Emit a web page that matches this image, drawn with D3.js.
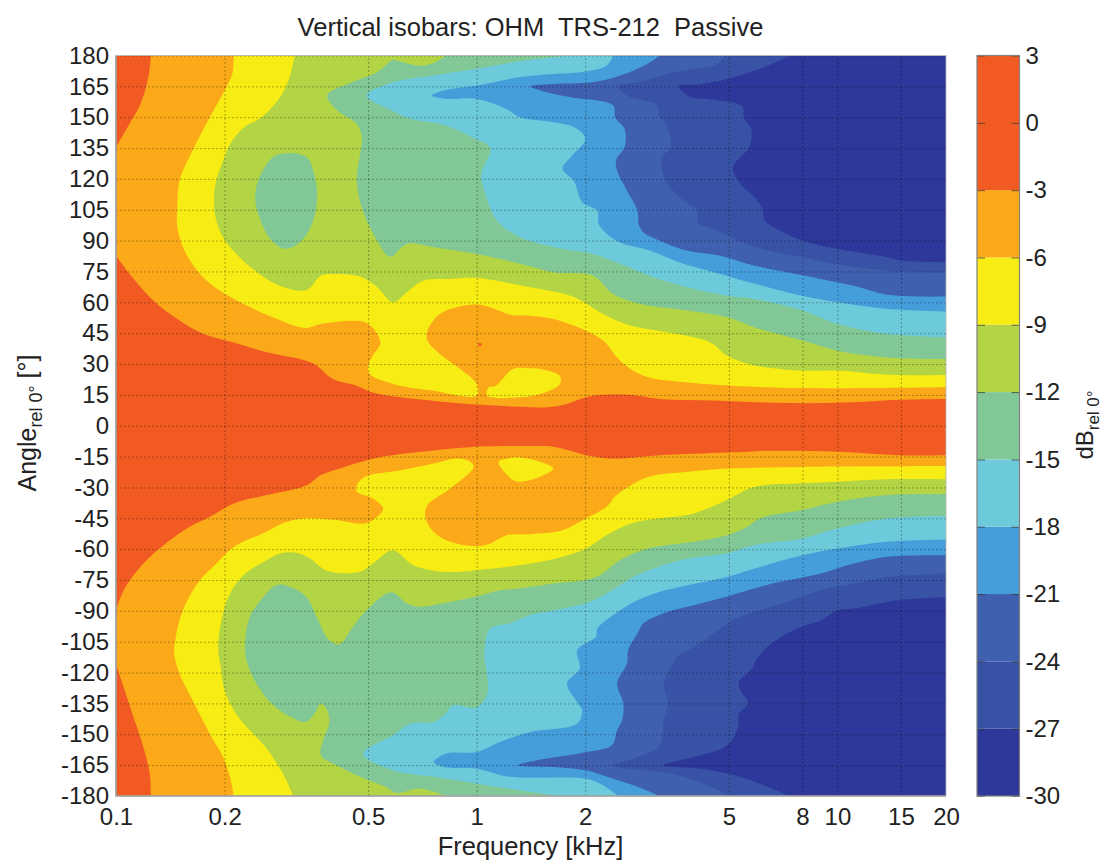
<!DOCTYPE html>
<html>
<head>
<meta charset="utf-8">
<script src="https://cdn.jsdelivr.net/npm/d3@7"></script>
<style>
    body { margin: 0; background: white; }
    svg text { font-family: "Liberation Sans", Arial, sans-serif; fill: #222; }
    .domain { display: none; }
</style>
</head>
<body>
<svg id="chart" width="1107" height="861"></svg>
<script>
//  the isobar levels, from the colorbar
const dbTicks = [3, 0, -3, -6, -9, -12, -15, -18, -21, -24, -27, -30];
const bandLows = [-30, -27, -24, -21, -18, -15, -12, -9, -6, -3];
const bandHighs = [-27, -24, -21, -18, -15, -12, -9, -6, -3, 3];
const bandColors = ["#2e389b", "#3853a5", "#3f60ae", "#459dd9", "#6dcadb", "#82c896", "#b2d445", "#f7ec13", "#fba919", "#f15a22"];

const freqTicks = [0.1, 0.2, 0.5, 1, 2, 5, 8, 10, 15, 20];
const angleTicks = [180, 165, 150, 135, 120, 105, 90, 75, 60, 45, 30, 15, 0, -15, -30, -45, -60, -75, -90, -105, -120, -135, -150, -165, -180];

//  contours: [kHz, degrees], from the top (or bottom) edge to the 20 kHz edge
const iso27Top = [[7.4,180],[6.1,173.5],[4.95,168.6],[4.17,166],[3.63,165],[3.93,159.7],[4.36,158.9],[5.45,155.2],[5.5,150],[5.77,144.3],[5.7,135.4],[5.38,130.5],[5.13,125.7],[5.38,117.6],[5.9,111],[6.2,105.4],[6.3,99.7],[7.1,94],[8,90],[10,85.9],[13.8,81.9],[15,80.3],[20,79.5]];
const iso27Bottom = [[7.35,-180],[6.1,-174],[4.95,-169.1],[4.17,-166.7],[3.3,-165],[4.17,-160.2],[4.95,-155.3],[5.3,-146.4],[5.33,-140],[5.65,-135],[5.38,-128.6],[5.33,-124.5],[5.8,-118],[5.95,-114],[6.4,-107.5],[7.25,-101],[7.9,-97.8],[9,-94.5],[10,-89.7],[11.1,-88.9],[14.7,-84.8],[20,-83.2]];

const iso24Top = [[4.88,180],[4.65,176],[4,173.5],[3.38,171],[2.79,167],[2.47,165],[2.61,160.5],[3.16,155.7],[3.2,150.8],[3.38,145],[3.45,135.4],[3.26,130.5],[3.26,124.9],[3.38,117.6],[3.74,109.5],[4.1,104.6],[4.1,98.9],[4.65,94.9],[5.3,90],[6.5,85],[8,81.9],[10,78.3],[13.8,75.4],[20,74.6]];
const iso24Bottom = [[5,-180],[4.36,-174.8],[3.45,-169.1],[2.39,-165],[2.79,-161],[3.22,-155.3],[3.3,-143.2],[3.38,-135],[3.3,-125.3],[3.5,-115.6],[3.6,-112.4],[4,-107.5],[4.53,-101],[5.13,-94.5],[5.9,-90.5],[7.25,-85.6],[9,-80],[11.1,-76.7],[13.8,-73.5],[20,-71.8]];

const iso21Top = [[3.22,180],[2.98,176],[2.5,170.3],[2.1,167],[1.63,166.2],[1.41,165],[1.63,161.4],[1.82,159.7],[2.39,155.7],[2.42,150],[2.57,144.3],[2.57,135.4],[2.44,129.7],[2.44,124.9],[2.61,114.3],[2.79,104.6],[2.81,98.1],[2.9,94],[3.22,90],[3.84,85.1],[4.74,82.7],[5.9,77.8],[7.25,74.6],[9,71.4],[11.1,68.1],[13.8,63.7],[20,62.8]];
const iso21Bottom = [[3.22,-180],[2.72,-174.8],[2.24,-170],[2.01,-167.5],[1.63,-165.9],[1.3,-165],[1.47,-162.6],[2.02,-158.6],[2.37,-155.3],[2.45,-148],[2.53,-143.2],[2.55,-135],[2.45,-125.3],[2.61,-115.6],[2.63,-109],[2.79,-101],[2.9,-96],[3.38,-90.5],[3.84,-88],[4.95,-83],[5.9,-79],[6.94,-75.9],[9,-71.8],[11.1,-67],[13.8,-63.7],[20,-63]];

const iso18Top = [[2.39,180],[2.29,175],[1.97,172],[1.63,171],[1.32,169.5],[1,165.4],[0.81,163],[0.75,160.5],[0.82,158.9],[1,158.9],[1.21,154],[1.32,150],[1.63,147.6],[1.87,145],[2,139.5],[1.82,130.5],[1.73,125],[1.86,119],[1.96,108.7],[2.16,104.6],[2.18,98],[2.44,90],[3.03,85.1],[3.74,78.7],[4.74,73.8],[5.9,69],[8,63.2],[10,60],[13.8,56.8],[20,55.6]];
const iso18Bottom = [[2.47,-180],[2.24,-174.8],[2.01,-171.6],[1.24,-170.7],[1,-166.7],[0.81,-165.9],[0.76,-163.5],[0.82,-159.4],[1,-158.6],[1.16,-153.7],[1.41,-148.9],[1.9,-144.8],[1.96,-138.3],[1.91,-135],[1.78,-125.3],[1.93,-118],[1.9,-109],[2.14,-102.7],[2.16,-98.6],[2.5,-89.7],[2.79,-84.8],[3.22,-80.7],[3.84,-77.5],[4.95,-73.5],[5.9,-69.4],[8,-63],[10,-59.7],[13.8,-56.4],[20,-55.3]];

const iso15Top = [[1.82,180],[1.32,177.2],[1,173.5],[0.76,170.3],[0.586,167],[0.495,160.5],[0.57,154],[0.655,149.2],[0.82,146],[0.97,140.3],[1.09,135],[1.03,122.4],[1.05,114.3],[1.14,99.7],[1.32,91.6],[1.73,86],[2.1,83.5],[2.5,78.7],[3.09,72.2],[3.84,67.3],[4.95,63.2],[5.9,61.6],[8,56],[10,49.5],[13.8,44.6],[20,43]];
const iso15Bottom = [[1.73,-180],[1.41,-178],[1,-174],[0.76,-170.7],[0.586,-167.5],[0.485,-159.4],[0.586,-150.5],[0.655,-144.8],[0.76,-144],[0.82,-140],[0.86,-135.9],[1,-137],[1.07,-130.2],[1.07,-122],[1.05,-110.8],[1.09,-98.6],[1.24,-96],[1.41,-92],[1.63,-89.7],[2,-86.4],[2.16,-84],[2.5,-77.5],[2.72,-73.5],[3.68,-65.3],[4.95,-62],[5.9,-58],[8,-54.8],[10,-50],[13.8,-45],[20,-44]];

const iso12Top = [[0.82,180],[0.76,176.3],[0.695,175],[0.6,177.6],[0.586,177.9],[0.53,171.9],[0.45,167],[0.385,160.5],[0.417,152.4],[0.465,146.8],[0.48,140.3],[0.465,119.2],[0.483,104.6],[0.53,90],[0.575,82.2],[0.64,88.4],[0.76,86.8],[1,83.5],[1.32,78.7],[1.63,74.6],[2.1,73],[2.39,64],[2.85,59.2],[3.84,56],[4.95,52.7],[5.9,47.8],[8,41.4],[10,36.5],[13.8,33.2],[20,32.4]];
const iso12Bottom = [[0.82,-180],[0.695,-176.4],[0.6,-178.5],[0.56,-175.6],[0.49,-171.6],[0.417,-165.9],[0.37,-160.2],[0.375,-153],[0.39,-144.8],[0.385,-138.3],[0.37,-135],[0.355,-140],[0.335,-144],[0.305,-141.6],[0.27,-135],[0.245,-125.3],[0.23,-114],[0.228,-105.9],[0.235,-93],[0.257,-83],[0.278,-77.5],[0.298,-77.8],[0.336,-83],[0.36,-93],[0.39,-104.3],[0.417,-106.2],[0.45,-98.6],[0.49,-90.5],[0.58,-81],[0.64,-86.4],[0.695,-88],[0.845,-85.6],[1,-83],[1.16,-80],[1.32,-79],[1.63,-76.7],[2.01,-75],[2.2,-72.6],[2.5,-65.3],[2.98,-59.7],[4,-56.4],[4.95,-53.2],[5.65,-49],[6.1,-45],[8,-41],[10,-37],[13.8,-33.7],[20,-33.2]];
const island12 = [[0.294,132.5],[0.338,130.5],[0.356,120.8],[0.361,111],[0.352,99.7],[0.327,90],[0.294,86],[0.268,90.8],[0.25,101.4],[0.243,111],[0.25,120.8],[0.272,130.5]];

const iso9Top = [[0.313,180],[0.303,169.5],[0.285,159.7],[0.25,149.2],[0.23,146],[0.21,138.6],[0.195,125.7],[0.188,116],[0.188,103],[0.198,91.6],[0.22,81.9],[0.25,73.8],[0.285,68],[0.338,66],[0.37,73],[0.4,73.8],[0.475,72.5],[0.53,67.3],[0.586,60],[0.64,64.9],[0.71,70.5],[0.845,71.4],[1,71.8],[1.41,67.3],[1.82,63.2],[2.02,59.2],[2.24,54.3],[2.68,48.6],[3.38,45.4],[4.44,40.5],[4.95,34],[5.77,29.7],[8,26.8],[10,26.8],[13.8,24.8],[20,24.7]];
const iso9Bottom = [[0.31,-180],[0.29,-169],[0.262,-157],[0.24,-149.7],[0.215,-140],[0.2,-128.6],[0.195,-117],[0.192,-107.5],[0.198,-91.3],[0.207,-81.6],[0.226,-72.6],[0.262,-65.3],[0.29,-61.8],[0.32,-62],[0.345,-64.5],[0.385,-70.5],[0.475,-71],[0.515,-67],[0.586,-60.5],[0.667,-67.8],[0.81,-71],[1,-70.2],[1.41,-67],[1.73,-63.7],[2.01,-59.7],[2.29,-53.2],[2.68,-47.5],[3.22,-45],[4,-42.6],[4.95,-36],[5.9,-29.7],[8,-28],[10,-27.2],[13.8,-26],[20,-26]];

const iso6Top = [[0.212,180],[0.21,171],[0.2,163],[0.182,150],[0.163,133.8],[0.15,119.2],[0.148,107.8],[0.148,96.5],[0.155,85],[0.171,73.8],[0.191,66.5],[0.226,59.2],[0.272,52.7],[0.334,47.5],[0.37,49.5],[0.49,50.3],[0.53,44.6],[0.54,39.7],[0.515,34],[0.5,29.2],[0.505,25.1],[0.586,20.3],[0.76,17],[1,14.6],[1,20.3],[0.9,27.6],[0.79,34.9],[0.73,41.4],[0.73,46.2],[0.79,54.3],[0.88,57.6],[1,58.9],[1.09,57.6],[1.24,54],[1.41,53.5],[1.63,51.9],[2.01,46.2],[2.24,41.4],[2.5,31.6],[2.9,24.3],[3.84,21],[5.13,19.5],[8,18.3],[20,18.7]];
const iso6Bottom = [[0.212,-180],[0.207,-170.7],[0.198,-161],[0.182,-149.7],[0.163,-133.5],[0.15,-120.5],[0.145,-110.8],[0.146,-104.3],[0.15,-94.5],[0.157,-85.6],[0.171,-75],[0.186,-68.6],[0.212,-58.9],[0.255,-52.4],[0.298,-46.7],[0.338,-45],[0.4,-45.6],[0.49,-47.5],[0.53,-44.3],[0.55,-40.2],[0.515,-35.4],[0.465,-32],[0.465,-28.9],[0.49,-24.8],[0.615,-21.6],[0.76,-18.3],[0.89,-15.9],[0.96,-17.5],[0.98,-20],[0.845,-30.5],[0.73,-38.6],[0.72,-44.3],[0.76,-51.6],[0.845,-56.4],[1,-58.5],[1.09,-57.2],[1.21,-53.2],[1.41,-52.7],[1.73,-50.8],[2.01,-45],[2.29,-39.4],[2.44,-33.7],[2.68,-28.9],[3,-24.8],[3.84,-22.4],[4.95,-20.8],[8,-20],[20,-19.6]];
const lobe6Top = [[1.07,14.6],[1.08,18.7],[1.13,19.5],[1.26,27.6],[1.41,28],[1.5,27.6],[1.7,24.3],[1.7,20.3],[1.5,15.4],[1.32,13.8]];
const lobe6Bottom = [[1.15,-17.5],[1.22,-15.9],[1.32,-15.4],[1.5,-17.5],[1.63,-20.8],[1.5,-24.8],[1.32,-27.2],[1.26,-26.4]];

const iso3Top = [[0.1,82.7],[0.111,72.2],[0.127,60.8],[0.148,51.9],[0.175,44.6],[0.212,40.5],[0.262,35.7],[0.352,30.3],[0.4,22.7],[0.465,19.5],[0.515,16.2],[0.68,13],[1,10.3],[1.41,9],[1.57,9],[1.77,10.5],[2.01,13.8],[2.2,14.9],[2.68,14.9],[3.22,13],[4.74,12.2],[7.25,11],[11.1,11.4],[14.3,12.5],[20,13]];
const iso3Bottom = [[0.1,-89.7],[0.105,-80],[0.115,-70],[0.132,-59.7],[0.157,-50],[0.182,-44.3],[0.212,-37.8],[0.262,-33.7],[0.338,-28.9],[0.37,-24],[0.417,-20.8],[0.48,-17.5],[0.55,-15],[0.76,-12],[1,-10.2],[1.41,-9.9],[1.63,-10.2],[1.86,-12.6],[2.01,-14.3],[2.39,-15.9],[3.22,-14.3],[4.95,-13],[6.5,-12.2],[10,-12.6],[14.7,-14.3],[20,-14.3]];
const corner3Top = [[0.125,180],[0.123,169.5],[0.117,156.5],[0.109,146.8],[0.1,135.4]];
const corner3Bottom = [[0.125,-180],[0.124,-169],[0.119,-156],[0.111,-140],[0.105,-127],[0.1,-116]];
const peakDot = [1.02, 39.5];

const plot = {left: 116, right: 946, top: 55.5, bottom: 796};
const bar = {left: 977, right: 1019.5};

const svg = d3.select("#chart");
const x = d3.scaleLog().domain([0.1, 20]).range([plot.left, plot.right]);
const y = d3.scaleLinear().domain([180, -180]).range([plot.top, plot.bottom]);
const yBar = d3.scaleLinear().domain([3, -30]).range([plot.top, plot.bottom]);
const color = d3.scaleOrdinal().domain(bandLows).range(bandColors);

const smoothLine = d3.line().x(d => x(d[0])).y(d => y(d[1])).curve(d3.curveCatmullRom.alpha(0.5));
const smoothLoop = d3.line().x(d => x(d[0])).y(d => y(d[1])).curve(d3.curveCatmullRomClosed.alpha(0.5));

//  everything at or above one level: top contour, back along the bottom one, then the left edge
function levelPath(top, bottom) {
    const back = smoothLine(bottom.slice().reverse());
    let d = smoothLine(top) + "L" + back.slice(1);
    if (top[0][0] > 0.1) {
        d = `M${x(0.1)},${y(180)}L` + d.slice(1) + `L${x(0.1)},${y(-180)}`;
    }
    return d + "Z";
}

//  a corner piece: the contour, closed through the plot corner
function cornerPath(contour, cornerAngle) {
    return smoothLine(contour) + `L${x(0.1)},${y(cornerAngle)}Z`;
}

//  painted from the lowest level up, so each region covers the one before
const regions = [
    {low: -30, d: `M${x(0.1)},${y(180)}H${x(20)}V${y(-180)}H${x(0.1)}Z`},
    {low: -27, d: levelPath(iso27Top, iso27Bottom)},
    {low: -24, d: levelPath(iso24Top, iso24Bottom)},
    {low: -21, d: levelPath(iso21Top, iso21Bottom)},
    {low: -18, d: levelPath(iso18Top, iso18Bottom)},
    {low: -15, d: levelPath(iso15Top, iso15Bottom)},
    {low: -12, d: levelPath(iso12Top, iso12Bottom)},
    {low: -15, d: smoothLoop(island12)},
    {low: -9, d: levelPath(iso9Top, iso9Bottom)},
    {low: -6, d: levelPath(iso6Top, iso6Bottom)},
    {low: -9, d: smoothLoop(lobe6Top)},
    {low: -9, d: smoothLoop(lobe6Bottom)},
    {low: -3, d: levelPath(iso3Top, iso3Bottom)},
    {low: -3, d: cornerPath(corner3Top, 180)},
    {low: -3, d: cornerPath(corner3Bottom, -180)},
];

//  the original is a slightly soft scan, so the plot gets a small blur
const defs = svg.append("defs");
defs.append("clipPath").attr("id", "plotClip").append("rect")
    .attr("x", plot.left).attr("y", plot.top)
    .attr("width", plot.right - plot.left).attr("height", plot.bottom - plot.top);
defs.append("filter").attr("id", "soft").attr("color-interpolation-filters", "sRGB")
    .append("feGaussianBlur").attr("stdDeviation", 0.6);

const plotArea = svg.append("g").attr("clip-path", "url(#plotClip)")
    .append("g").attr("filter", "url(#soft)");

plotArea.append("g").selectAll("path").data(regions).join("path")
    .attr("d", d => d.d)
    .attr("fill", d => color(d.low));

plotArea.append("circle")
    .attr("cx", x(peakDot[0])).attr("cy", y(peakDot[1])).attr("r", 1.8)
    .attr("fill", bandColors[9]);

//  dotted grid
const gridX = plotArea.append("g").attr("transform", `translate(0,${plot.bottom})`)
    .call(d3.axisBottom(x).tickValues(freqTicks).tickSize(plot.top - plot.bottom).tickFormat(""));
const gridY = plotArea.append("g").attr("transform", `translate(${plot.left},0)`)
    .call(d3.axisLeft(y).tickValues(angleTicks).tickSize(plot.left - plot.right).tickFormat(""));
[gridX, gridY].forEach(g => g.selectAll(".tick line")
    .attr("stroke", "#000").attr("stroke-opacity", 0.3)
    .attr("stroke-width", 1).attr("stroke-dasharray", "2,2"));

//  axes with their labels
const axisX = svg.append("g").attr("transform", `translate(0,${plot.bottom})`)
    .call(d3.axisBottom(x).tickValues(freqTicks).tickSize(0).tickPadding(12).tickFormat(d => d));
const axisY = svg.append("g").attr("transform", `translate(${plot.left},0)`)
    .call(d3.axisLeft(y).tickValues(angleTicks).tickSize(0).tickPadding(7).tickFormat(d => d));
[axisX, axisY].forEach(g => g.selectAll("text").attr("font-size", 24));

//  plot frame, the left and bottom sides are heavier
svg.append("rect")
    .attr("x", plot.left).attr("y", plot.top)
    .attr("width", plot.right - plot.left).attr("height", plot.bottom - plot.top)
    .attr("fill", "none").attr("stroke", "#b5b5b5").attr("stroke-width", 0.8);
svg.append("path")
    .attr("d", `M${plot.left},${plot.top}V${plot.bottom}H${plot.right}`)
    .attr("fill", "none").attr("stroke", "#a0a0a0").attr("stroke-width", 1.6);

//  colorbar
svg.append("g").selectAll("rect").data(bandLows).join("rect")
    .attr("x", bar.left).attr("width", bar.right - bar.left)
    .attr("y", (d, i) => yBar(bandHighs[i]))
    .attr("height", (d, i) => yBar(d) - yBar(bandHighs[i]))
    .attr("fill", d => color(d));

const barAxis = svg.append("g").attr("transform", `translate(${bar.right},0)`)
    .call(d3.axisRight(yBar).tickValues(dbTicks).tickSize(-8).tickFormat(d => d));
barAxis.selectAll("text").attr("font-size", 24).attr("x", 6);
barAxis.selectAll("line").attr("stroke", "#333").attr("stroke-opacity", 0.7);
svg.append("g").attr("transform", `translate(${bar.left},0)`)
    .call(d3.axisLeft(yBar).tickValues(dbTicks).tickSize(-8).tickFormat(""))
    .selectAll("line").attr("stroke", "#333").attr("stroke-opacity", 0.7);

svg.append("rect")
    .attr("x", bar.left).attr("y", plot.top)
    .attr("width", bar.right - bar.left).attr("height", plot.bottom - plot.top)
    .attr("fill", "none").attr("stroke", "#808080").attr("stroke-width", 1.2);

//  titles
svg.append("text").attr("x", 530.5).attr("y", 36).attr("text-anchor", "middle").attr("font-size", 25.5)
    .style("white-space", "pre")
    .text("Vertical isobars: OHM  TRS-212  Passive");

svg.append("text").attr("x", 530.5).attr("y", 855).attr("text-anchor", "middle").attr("font-size", 25.5)
    .text("Frequency [kHz]");

const yLabel = svg.append("text").attr("transform", "translate(36,423) rotate(-90)")
    .attr("text-anchor", "middle").attr("font-size", 25);
yLabel.append("tspan").text("Angle");
yLabel.append("tspan").attr("font-size", 18).attr("dy", 6).text("rel 0°");
yLabel.append("tspan").attr("dy", -6).text(" [°]");

const barLabel = svg.append("text").attr("transform", "translate(1093,425) rotate(-90)")
    .attr("text-anchor", "middle").attr("font-size", 24);
barLabel.append("tspan").text("dB");
barLabel.append("tspan").attr("font-size", 17).attr("dy", 6).text("rel 0°");
</script>
</body>
</html>
